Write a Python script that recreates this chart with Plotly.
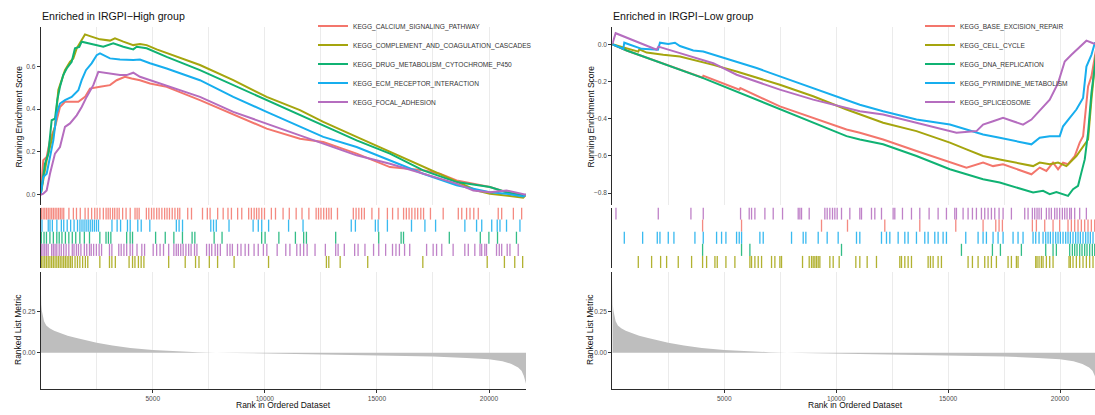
import plotly.graph_objects as go

# ---------------- data ----------------
N_GENES = 21650

# Ranked list metric (rank, value) anchors
METRIC_RANK = [1, 8, 25, 50, 100, 150, 250, 400, 600, 900, 1200, 1600, 2000, 2500, 3200, 4000,
               5000, 6000, 7000, 7800, 9000, 10000, 12000, 14000, 16000, 17500, 19000, 20000,
               20600, 21000, 21300, 21450, 21550, 21620, 21650]
METRIC_VALUE = [0.45, 0.36, 0.29, 0.255, 0.215, 0.19, 0.165, 0.148, 0.132, 0.115, 0.102, 0.088,
                0.075, 0.060, 0.043, 0.028, 0.016, 0.008, 0.003, 0.0, -0.003, -0.005, -0.009,
                -0.013, -0.018, -0.023, -0.032, -0.040, -0.052, -0.068, -0.09, -0.11, -0.14,
                -0.17, -0.188]
RANK_TICKS = [5000, 10000, 15000, 20000]
RANK_MINOR = [2500, 7500, 12500, 17500]

# ---- Left panel: Enriched in IRGPI-High group ----
CALCIUM_X = [0, 60, 116, 267, 415, 638, 861, 1084, 1383, 1680, 1977, 2199, 2645, 3091, 3388, 3760,
             4057, 4429, 4876, 5620, 7105, 8591, 10080, 11566, 12606, 14094, 15580, 17066, 17810,
             18555, 19447, 20040, 20782, 21526, 21650]
CALCIUM_Y = [0, 0.11, 0.161, 0.176, 0.254, 0.317, 0.410, 0.434, 0.434, 0.434, 0.457, 0.496, 0.504,
             0.512, 0.535, 0.551, 0.543, 0.535, 0.520, 0.504, 0.442, 0.375, 0.309, 0.262, 0.246,
             0.192, 0.129, 0.114, 0.098, 0.067, 0.048, 0.036, 0.012, -0.003, 0.0]

COMPLEMENT_X = [0, 116, 267, 415, 638, 787, 935, 1084, 1307, 1456, 1606, 1829, 1977, 2199, 2645,
                3091, 3314, 3686, 4131, 4429, 4728, 5174, 5915, 7105, 8591, 10080, 11566, 12606,
                14094, 15580, 17066, 18555, 19447, 20040, 20633, 21080, 21526, 21650]
COMPLEMENT_Y = [0, 0.067, 0.161, 0.223, 0.317, 0.489, 0.535, 0.582, 0.621, 0.637, 0.684, 0.723,
                0.749, 0.741, 0.726, 0.720, 0.731, 0.715, 0.699, 0.704, 0.699, 0.679, 0.652, 0.606,
                0.535, 0.457, 0.395, 0.340, 0.270, 0.200, 0.129, 0.059, 0.020, 0.005, -0.003,
                -0.011, -0.014, 0.0]

DRUG_X = [0, 192, 340, 490, 638, 740, 861, 1008, 1160, 1383, 1530, 1722, 1829, 2123, 2498, 2792,
          3238, 3686, 4131, 4282, 4728, 5620, 7105, 8591, 10080, 11566, 12606, 14094, 15580,
          17066, 18555, 19447, 20040, 20782, 21526, 21650]
DRUG_Y = [0, 0.145, 0.192, 0.348, 0.356, 0.442, 0.504, 0.559, 0.590, 0.621, 0.684, 0.691, 0.715,
          0.707, 0.699, 0.691, 0.707, 0.691, 0.679, 0.691, 0.684, 0.644, 0.582, 0.512, 0.442,
          0.375, 0.325, 0.254, 0.192, 0.114, 0.059, 0.044, 0.036, 0.012, -0.003, 0.0]

ECM_X = [0, 116, 267, 415, 564, 713, 861, 1084, 1383, 1680, 1829, 2020, 2272, 2498, 2645, 3091,
         3537, 4131, 4429, 4876, 5620, 7105, 8591, 10080, 11566, 12606, 14094, 15580, 16323,
         17066, 18555, 20040, 20782, 21526, 21650]
ECM_Y = [0, 0.082, 0.098, 0.176, 0.254, 0.379, 0.426, 0.442, 0.457, 0.488, 0.535, 0.582, 0.614,
         0.652, 0.660, 0.637, 0.632, 0.629, 0.632, 0.614, 0.590, 0.535, 0.457, 0.387, 0.317,
         0.270, 0.223, 0.161, 0.129, 0.098, 0.044, 0.012, 0.005, -0.008, 0.0]

FOCAL_X = [0, 116, 267, 415, 638, 861, 1084, 1307, 1606, 1829, 2050, 2348, 2572, 2943, 3537, 3835,
           4131, 4429, 4876, 5620, 7105, 8591, 10080, 11566, 12606, 14094, 15580, 17066, 18555,
           19300, 20040, 20782, 21526, 21650]
FOCAL_Y = [0, 0.005, 0.020, 0.098, 0.192, 0.223, 0.317, 0.333, 0.371, 0.410, 0.457, 0.512, 0.574,
           0.567, 0.559, 0.559, 0.570, 0.551, 0.535, 0.512, 0.457, 0.387, 0.333, 0.278, 0.239,
           0.184, 0.145, 0.098, 0.052, 0.020, 0.012, 0.020, 0.005, 0.0]

CALCIUM_HITS = [31, 108, 184, 261, 338, 415, 492, 568, 645, 722, 799, 876, 952, 1029, 1260, 1459,
                1597, 1766, 1981, 2120, 2273, 2412, 2519, 2642, 2796, 2918, 3011, 3103, 3210, 3303,
                3410, 3502, 3656, 3809, 3994, 4209, 4301, 4393, 4715, 4823, 4946, 5053, 5176, 5284,
                5407, 5529, 5637, 5745, 5868, 5990, 6113, 6205, 6559, 6728, 7219, 7434, 7557, 7895,
                8141, 8356, 8509, 8786, 8970, 9278, 9400, 9523, 9631, 9738, 9861, 9984, 10291,
                10475, 10813, 11090, 11397, 11658, 11965, 12288, 12395, 12503, 12626, 12749, 12856,
                12964, 13240, 13947, 14070, 14193, 14316, 14438, 14776, 15083, 15467, 15698, 15943,
                16189, 16312, 16435, 16558, 16696, 16819, 16957, 17080, 17387, 17956, 18630, 18784,
                18999, 19152, 19321, 19521, 20411, 20565, 21087, 21456]
ECM_HITS = [58, 338, 415, 522, 722, 922, 1029, 1183, 1336, 1490, 1643, 1751, 1843, 1935, 2027,
            2120, 2212, 2304, 2396, 2488, 2580, 3180, 3410, 3564, 3871, 3994, 4332, 4485, 4869,
            6052, 6175, 6328, 7588, 7711, 7834, 8402, 9477, 9707, 9861, 10168, 11059, 11704, 13855,
            14039, 14930, 15053, 15467, 16542, 17141, 17617, 18923, 19445, 19675, 20121, 20366,
            20489, 20781, 21380]
DRUG_HITS = [28, 150, 258, 412, 565, 719, 826, 949, 1103, 1256, 1410, 1564, 1748, 1948, 2178, 2639,
             2915, 3022, 3130, 3836, 3990, 4097, 5127, 5557, 5941, 6325, 6755, 6878, 7738, 8091,
             9858, 10011, 10626, 11363, 11732, 11855, 13160, 15080, 16079, 16186, 18229, 19611,
             19995, 20379, 21224]
FOCAL_HITS = [28, 104, 181, 258, 335, 488, 565, 642, 719, 826, 919, 1026, 1134, 1256, 1410, 1487,
              1594, 1687, 1794, 1948, 2055, 2178, 2255, 2362, 2485, 2608, 2716, 3069, 3176, 3483,
              3591, 3714, 3837, 3990, 4098, 4297, 4512, 4635, 5019, 5173, 5326, 5480, 5710, 5941,
              6048, 6141, 6248, 6356, 6479, 6602, 6709, 6863, 6970, 7400, 7523, 7631, 7784, 7892,
              8015, 8322, 8445, 8552, 8783, 8936, 9121, 9274, 9520, 9705, 9935, 10089, 10550,
              10934, 11118, 11425, 11579, 11732, 11886, 12239, 12700, 13161, 13268, 13545, 14006,
              14159, 14466, 14850, 15081, 15388, 15695, 15849, 16003, 16233, 16463, 17216, 17508,
              17661, 17892, 18399, 18921, 19075, 19367, 19597, 19674, 19813, 19889, 20335, 20458,
              20565, 20811, 20934, 21303]
COMPLEMENT_HITS = [28, 104, 181, 258, 335, 412, 488, 565, 642, 719, 796, 872, 949, 1026, 1103,
                   1180, 1256, 1333, 1410, 1533, 1641, 1748, 1871, 1994, 2101, 2639, 3069, 3176,
                   3330, 3944, 4098, 4205, 4359, 4482, 4605, 5710, 6448, 6909, 7062, 7523, 7892,
                   8629, 10165, 12746, 12853, 13360, 14589, 17047, 19919, 20687, 21148, 21501]

# ---- Right panel: Enriched in IRGPI-Low group ----
BER_X = [0, 640, 4040, 4070, 5680, 5720, 7487, 8973, 10464, 11058, 12098, 13589, 15080, 15822,
         16563, 17009, 17455, 18049, 18723, 19092, 19390, 19688, 19911, 20135, 20358, 20657, 20879,
         21030, 21253, 21403, 21650]
BER_Y = [0, -0.034, -0.180, -0.170, -0.245, -0.236, -0.334, -0.396, -0.458, -0.476, -0.512,
         -0.574, -0.636, -0.663, -0.636, -0.655, -0.645, -0.672, -0.699, -0.663, -0.681, -0.636,
         -0.672, -0.636, -0.645, -0.601, -0.529, -0.494, -0.227, -0.173, 0.0]

CELLCYCLE_X = [0, 1163, 1210, 1535, 2278, 3022, 4509, 5554, 7487, 8973, 10464, 11058, 12098, 13589,
               15080, 15822, 16563, 17306, 18049, 18797, 19092, 19540, 19911, 20284, 20731, 21030,
               21253, 21403, 21650]
CELLCYCLE_Y = [0, -0.040, -0.027, -0.045, -0.057, -0.066, -0.111, -0.147, -0.218, -0.280, -0.351,
               -0.378, -0.422, -0.467, -0.529, -0.565, -0.601, -0.619, -0.636, -0.655, -0.636,
               -0.645, -0.636, -0.655, -0.601, -0.548, -0.512, -0.298, 0.0]

DNA_X = [0, 643, 4063, 5701, 7487, 8973, 10464, 11058, 12098, 13589, 15080, 15822, 16563, 17306,
         18049, 18797, 19241, 19540, 19837, 20358, 20582, 20805, 20953, 21104, 21253, 21403, 21550,
         21650]
DNA_Y = [0, -0.034, -0.182, -0.262, -0.351, -0.422, -0.494, -0.512, -0.538, -0.601, -0.672,
         -0.699, -0.726, -0.743, -0.770, -0.797, -0.788, -0.806, -0.794, -0.815, -0.779, -0.761,
         -0.690, -0.619, -0.476, -0.262, -0.120, 0.0]

PYRIMIDINE_X = [0, 491, 536, 1313, 2041, 2130, 2502, 2800, 3022, 3617, 4063, 4807, 5554, 6446, 7487,
                8973, 10464, 11058, 12098, 13589, 15080, 15822, 16563, 17306, 18049, 18723, 19092,
                19540, 19986, 20135, 20433, 20731, 21030, 21179, 21403, 21550, 21650]
PYRIMIDINE_Y = [0, -0.025, 0.008, -0.025, -0.030, 0.008, 0.001, 0.008, -0.010, -0.034, -0.039,
                -0.066, -0.093, -0.128, -0.173, -0.235, -0.298, -0.325, -0.360, -0.405, -0.432,
                -0.458, -0.485, -0.503, -0.521, -0.538, -0.503, -0.494, -0.494, -0.441, -0.396,
                -0.351, -0.289, -0.120, -0.057, 0.005, 0.0]

SPLICEOSOME_X = [0, 150, 1982, 2060, 3022, 3767, 4509, 5554, 7487, 8973, 10464, 11058, 12098, 13589,
                 14482, 15375, 16268, 16563, 17009, 17455, 17902, 18348, 18723, 19241, 19540, 19911,
                 20210, 20509, 20879, 21179, 21473, 21650]
SPLICEOSOME_Y = [0, 0.059, -0.030, -0.013, -0.048, -0.075, -0.102, -0.164, -0.244, -0.298, -0.342,
                 -0.360, -0.378, -0.422, -0.449, -0.476, -0.467, -0.432, -0.414, -0.396, -0.414,
                 -0.432, -0.405, -0.334, -0.298, -0.209, -0.093, -0.057, -0.013, 0.019, 0.005, 0.0]

SPLICEOSOME_HITS = [165, 2055, 3513, 4064, 5730, 6117, 6221, 6370, 6817, 7189, 7605, 8305, 8379,
                    8453, 8796, 9495, 9599, 9718, 9837, 9941, 10045, 10239, 10611, 11057, 11132,
                    11578, 11727, 12025, 12545, 12620, 12962, 13364, 13736, 14152, 14554, 14926,
                    15298, 15373, 15670, 15893, 16087, 16265, 16489, 16637, 16786, 16935, 17084,
                    17277, 17456, 17828, 18423, 18572, 18765, 18869, 18973, 19063, 19167, 19390,
                    19509, 19613, 19762, 19866, 19985, 20104, 20209, 20313, 20432, 20506, 20655,
                    20878, 21176]
BER_HITS = [4034, 5774, 9346, 10507, 12173, 13736, 15343, 16563, 17129, 17277, 17426, 18765, 18944,
            19316, 19688, 19985, 20357, 20506, 20655, 20804, 20952, 21101, 21250, 21399, 21548]
PYRIMIDINE_HITS = [537, 1356, 2010, 2129, 2501, 2754, 3692, 4064, 4659, 4882, 5076, 5552, 5671,
                   5775, 6593, 6742, 8007, 8528, 8647, 9198, 9599, 10090, 10909, 11057, 12025,
                   12248, 12397, 12769, 13067, 13215, 13587, 13959, 14108, 14406, 14554, 14777,
                   14926, 15789, 16340, 16563, 16712, 17009, 17233, 17456, 17902, 18125, 18348,
                   18795, 18914, 19063, 19242, 19361, 19465, 19569, 19688, 19807, 19911, 20015,
                   20134, 20253, 20357, 20461, 20580, 20699, 20804, 20908, 21027, 21146, 21250,
                   21354, 21473]
DNA_HITS = [4034, 5774, 6147, 10239, 15596, 16980, 17337, 18274, 19361, 19688, 19837, 20432, 20551,
            20655, 20759, 20878, 20982, 21101, 21205, 21324, 21443, 21548]
CELLCYCLE_HITS = [1162, 1757, 2159, 2427, 2947, 3543, 4034, 4213, 4585, 4689, 5076, 5477, 6147,
                  6221, 6370, 6519, 6668, 7114, 7263, 7486, 7560, 8498, 8796, 8900, 8974, 9049,
                  9123, 9198, 9272, 9718, 9867, 10135, 10879, 11057, 11385, 11801, 12843, 12918,
                  13067, 13215, 13364, 14108, 14212, 14331, 14554, 14703, 15893, 16087, 16340,
                  16637, 16786, 16935, 17158, 17679, 17828, 18051, 18125, 18914, 18973, 19063,
                  19167, 19242, 19390, 19539, 19688, 20402, 20461, 20580, 20729, 20878, 21027,
                  21176, 21324, 21473]

LEFT_TITLE = "Enriched in IRGPI−High group"
RIGHT_TITLE = "Enriched in IRGPI−Low group"

# ---------------- styling ----------------
RED, OLIVE, GREEN, BLUE, PURPLE = "#F3766C", "#A5A50E", "#10B273", "#17AEEE", "#B56DBF"
FONT = "Liberation Sans, Arial, sans-serif"
W, H = 1095, 415


def fx(p):
    return p / W


def fy(p):
    return 1 - p / H


LEFT_DOM = [fx(40.7), fx(526)]
RIGHT_DOM = [fx(612.3), 1.0]
RIGHT_XMAX = 21562          # the reference image is cropped at its right edge
ES_DOM = [fy(205), fy(26.7)]
RUG_DOM = [fy(268), fy(207.5)]
MET_DOM = [fy(389), fy(272)]

fig = go.Figure()

left_sets = [
    ("KEGG_CALCIUM_SIGNALING_PATHWAY", CALCIUM_X, CALCIUM_Y, RED),
    ("KEGG_COMPLEMENT_AND_COAGULATION_CASCADES", COMPLEMENT_X, COMPLEMENT_Y, OLIVE),
    ("KEGG_DRUG_METABOLISM_CYTOCHROME_P450", DRUG_X, DRUG_Y, GREEN),
    ("KEGG_ECM_RECEPTOR_INTERACTION", ECM_X, ECM_Y, BLUE),
    ("KEGG_FOCAL_ADHESION", FOCAL_X, FOCAL_Y, PURPLE),
]
right_sets = [
    ("KEGG_BASE_EXCISION_REPAIR", BER_X, BER_Y, RED),
    ("KEGG_CELL_CYCLE", CELLCYCLE_X, CELLCYCLE_Y, OLIVE),
    ("KEGG_DNA_REPLICATION", DNA_X, DNA_Y, GREEN),
    ("KEGG_PYRIMIDINE_METABOLISM", PYRIMIDINE_X, PYRIMIDINE_Y, BLUE),
    ("KEGG_SPLICEOSOME", SPLICEOSOME_X, SPLICEOSOME_Y, PURPLE),
]
# rug rows, top to bottom
left_rug = [(CALCIUM_HITS, RED), (ECM_HITS, BLUE), (DRUG_HITS, GREEN),
            (FOCAL_HITS, PURPLE), (COMPLEMENT_HITS, OLIVE)]
right_rug = [(SPLICEOSOME_HITS, PURPLE), (BER_HITS, RED), (PYRIMIDINE_HITS, BLUE),
             (DNA_HITS, GREEN), (CELLCYCLE_HITS, OLIVE)]

for side, sets, rug, legend in [(0, left_sets, left_rug, "legend"),
                                (1, right_sets, right_rug, "legend2")]:
    k = side * 3
    xa = ["x" if k == 0 else f"x{k+1}", f"x{k+2}", f"x{k+3}"]
    ya = ["y" if k == 0 else f"y{k+1}", f"y{k+2}", f"y{k+3}"]
    # ranked list metric
    fig.add_trace(go.Scatter(x=METRIC_RANK, y=METRIC_VALUE, mode="lines",
                             line=dict(width=0, color="#BEBEBE"), fill="tozeroy",
                             fillcolor="#BEBEBE", xaxis=xa[2], yaxis=ya[2],
                             showlegend=False, hoverinfo="skip"))
    # running enrichment score
    for name, xs, ys, col in sets:
        fig.add_trace(go.Scatter(x=xs, y=ys, mode="lines", name=name,
                                 line=dict(color=col, width=2), legend=legend,
                                 xaxis=xa[0], yaxis=ya[0]))
    # hit rug
    nrow = len(rug)
    for i, (hits, col) in enumerate(rug):
        lo, hi = nrow - i - 1, nrow - i
        xs, ys = [], []
        for h in hits:
            xs += [h, h, None]
            ys += [lo, hi, None]
        fig.add_trace(go.Scatter(x=xs, y=ys, mode="lines", line=dict(color=col, width=1.3),
                                 opacity=0.85, xaxis=xa[1], yaxis=ya[1],
                                 showlegend=False, hoverinfo="skip"))

AXLINE = dict(showline=True, linecolor="#2b2b2b", linewidth=1)
TICKF = dict(size=6.6, color="#4D4D4D", family=FONT)
GRID = "#EBEBEB"

layout = dict(
    width=W, height=H, margin=dict(l=0, r=0, t=0, b=0),
    paper_bgcolor="white", plot_bgcolor="white",
    font=dict(family=FONT, color="#222"),
)

for side in (0, 1):
    k = side * 3
    dom = LEFT_DOM if side == 0 else RIGHT_DOM
    xmax = N_GENES if side == 0 else RIGHT_XMAX
    es_range = [-0.048, 0.785] if side == 0 else [-0.864, 0.094]
    names = ["" if k == 0 else str(k + 1), str(k + 2), str(k + 3)]
    # ES panel
    layout["xaxis" + names[0]] = dict(domain=dom, range=[1, xmax], anchor="y" + names[0],
                                      showgrid=True, gridcolor=GRID, gridwidth=1, dtick=2500,
                                      tick0=0, showticklabels=False, ticks="", zeroline=False,
                                      showline=False)
    layout["yaxis" + names[0]] = dict(domain=ES_DOM, range=es_range, anchor="x" + names[0],
                                      dtick=0.2, tick0=0, tickformat=".1f", ticks="outside",
                                      ticklen=3, tickcolor="#333", tickfont=TICKF,
                                      showgrid=False, zeroline=False, **AXLINE)
    # rug panel
    layout["xaxis" + names[1]] = dict(domain=dom, range=[1, xmax], anchor="y" + names[1],
                                      showgrid=False, showticklabels=False, ticks="",
                                      zeroline=False, showline=False)
    layout["yaxis" + names[1]] = dict(domain=RUG_DOM, range=[0, 5], anchor="x" + names[1],
                                      showgrid=False, showticklabels=False, ticks="",
                                      zeroline=False, **AXLINE)
    # ranked list metric panel
    layout["xaxis" + names[2]] = dict(domain=dom, range=[1, xmax], anchor="y" + names[2],
                                      showgrid=True, gridcolor=GRID, tickmode="array",
                                      tickvals=RANK_TICKS, ticktext=[str(v) for v in RANK_TICKS],
                                      minor=dict(tickmode="array", tickvals=RANK_MINOR,
                                                 showgrid=True, gridcolor=GRID, ticks=""),
                                      ticks="outside", ticklen=3, tickcolor="#333",
                                      tickfont=TICKF, zeroline=False, **AXLINE)
    layout["yaxis" + names[2]] = dict(domain=MET_DOM, range=[-0.22, 0.488], anchor="x" + names[2],
                                      tickvals=[0, 0.25], ticktext=["0.00", "0.25"],
                                      ticks="outside", ticklen=3, tickcolor="#333",
                                      tickfont=TICKF, showgrid=False, zeroline=False, **AXLINE)

LEG = dict(bgcolor="rgba(0,0,0,0)", font=dict(size=6.6, color="#333", family=FONT),
           xanchor="left", yanchor="top", itemwidth=30, tracegroupgap=0, borderwidth=0)
layout["legend"] = dict(x=fx(313), y=fy(11.5), **LEG)
layout["legend2"] = dict(x=fx(920), y=fy(11.5), **LEG)

ann = []
for x0, title in [(40.7, LEFT_TITLE), (612.3, RIGHT_TITLE)]:
    ann.append(dict(text=title, x=fx(x0 - 1), y=fy(16), xanchor="left", yanchor="middle",
                    font=dict(size=10.6, color="#111", family=FONT)))
for xc in (18, 590):
    ann.append(dict(text="Running Enrichment Score", x=fx(xc), y=fy(116.5), textangle=-90,
                    xanchor="center", yanchor="middle",
                    font=dict(size=8.5, color="#111", family=FONT)))
    ann.append(dict(text="Ranked List Metric", x=fx(xc), y=fy(330), textangle=-90,
                    xanchor="center", yanchor="middle",
                    font=dict(size=8.5, color="#111", family=FONT)))
for xc in (283, 855):
    ann.append(dict(text="Rank in Ordered Dataset", x=fx(xc), y=fy(405), xanchor="center",
                    yanchor="middle", font=dict(size=8.5, color="#111", family=FONT)))
for a in ann:
    a.update(xref="paper", yref="paper", showarrow=False)
layout["annotations"] = ann

fig.update_layout(**layout)
fig.write_html("out.html", config={"displayModeBar": False},
               post_script="document.body.style.margin='0';document.body.style.padding='0';")
